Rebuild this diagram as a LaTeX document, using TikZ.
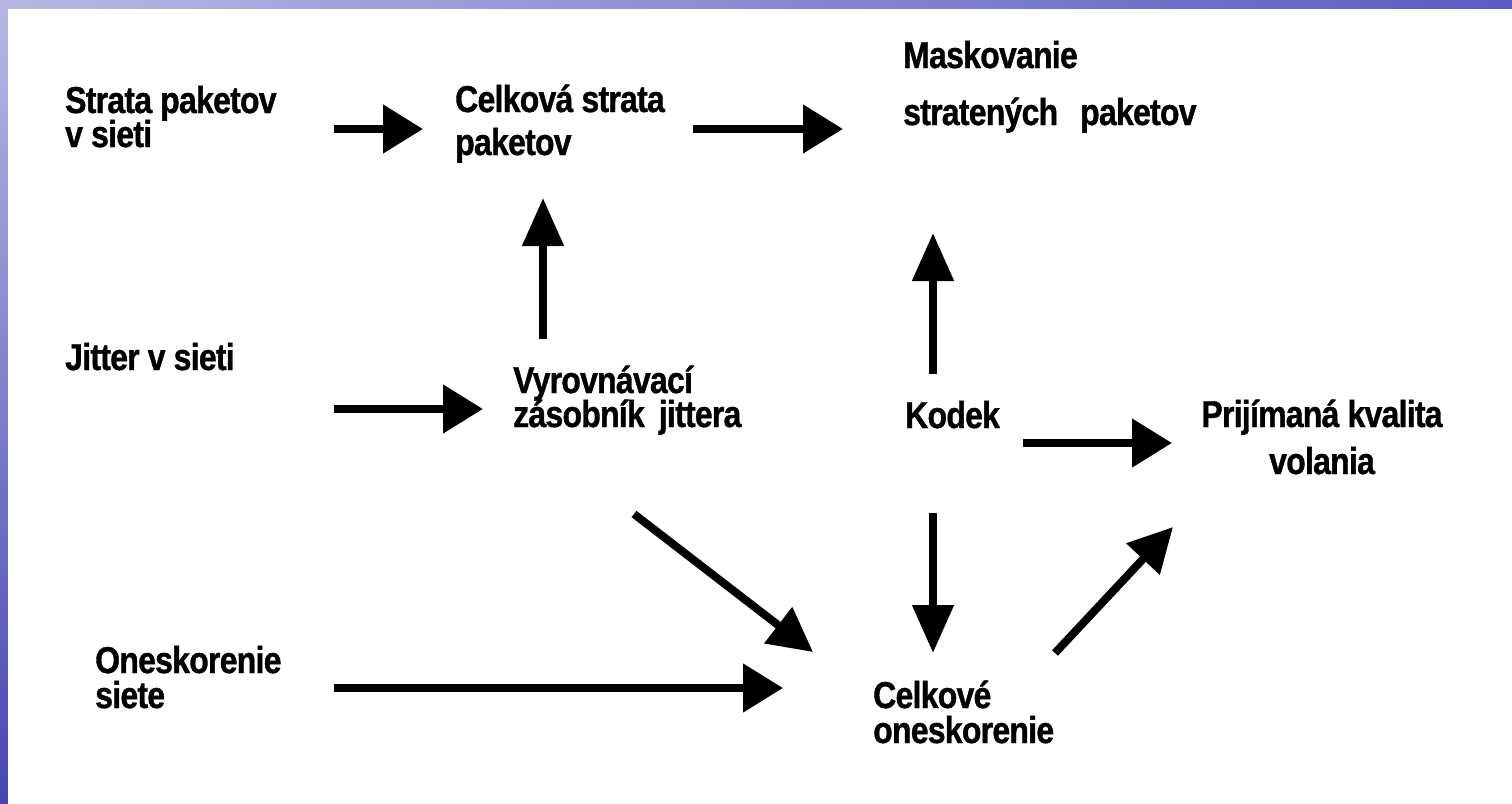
\documentclass[tikz,border=0pt]{standalone}
\usepackage{fontspec}
% narrow, tall, heavy sans for the labels
\setmainfont{Liberation Sans}[FakeStretch=0.855, LetterSpace=-2, FakeBold=1]
\usetikzlibrary{arrows.meta}
\definecolor{bandlight}{RGB}{184,184,228}
\definecolor{banddark}{RGB}{92,92,192}
\definecolor{bandlow}{RGB}{70,70,178}
% keep the baseline spacing fixed even where lines nearly touch
\setlength{\lineskiplimit}{-100pt}
\tikzset{
  lbl/.style={inner sep=0pt, anchor=base west, align=left,
    font=\fontsize{37.4}{31}\selectfont\bfseries},
  lblc/.style={lbl, anchor=base, align=center},
  harrow/.style={line width=8pt, -{Triangle[length=40pt,width=47pt]}},
  varrow/.style={line width=8pt, -{Triangle[length=48pt,width=40pt]}},
  darrow/.style={line width=8pt, -{Triangle[length=44pt,width=44pt]}},
}
\begin{document}
\begin{tikzpicture}[x=1pt,y=-1pt]
\useasboundingbox (0,0) rectangle (1512,803);
% slide frame: gradient bands on top and left
\shade[left color=bandlight, right color=banddark] (0,0) rectangle (1512,9);
\shade[top color=bandlight, bottom color=bandlow] (0,0) rectangle (8,803);
\fill[white] (8,9) rectangle (1512,803);

% labels (positioned by the baseline of their last line)
\node[lbl] (sp) at (65,147) {Strata paketov\\[3pt]v sieti};
\node[lbl] (cs) at (455,155) {Celková strata\\[12pt]paketov};
\node[lbl] (ms) at (903,125) {Maskovanie\\[26pt]stratených\hspace{22pt}paketov};
\node[lbl] (js) at (65,370) {Jitter v sieti};
\node[lbl] (vz) at (513,427) {Vyrovnávací\\[3pt]zásobník\hspace{14pt}jittera};
\node[lbl] (kd) at (905,428) {Kodek};
\node[lblc] (pk) at (1322,474) {Prijímaná kvalita\\[16pt]volania};
\node[lbl] (os) at (95,708) {Oneskorenie\\[4pt]siete};
\node[lbl] (co) at (873,743) {Celkové\\[4pt]oneskorenie};

% arrow end points
\coordinate (a1s) at (334,129);  \coordinate (a1e) at (423,129);
\coordinate (a2s) at (693,129);  \coordinate (a2e) at (843,129);
\coordinate (a3s) at (543,339);  \coordinate (a3e) at (543,198);
\coordinate (a4s) at (334,409);  \coordinate (a4e) at (483,409);
\coordinate (a5s) at (933,374);  \coordinate (a5e) at (933,233);
\coordinate (a6s) at (1023,443); \coordinate (a6e) at (1172,443);
\coordinate (a7s) at (933,513);  \coordinate (a7e) at (933,653);
\coordinate (a8s) at (634,514);  \coordinate (a8e) at (813,652);
\coordinate (a9s) at (334,688);  \coordinate (a9e) at (783,688);
\coordinate (a10s) at (1055,653); \coordinate (a10e) at (1173,527);

\draw[harrow] (a1s) -- (a1e);
\draw[harrow] (a2s) -- (a2e);
\draw[varrow] (a3s) -- (a3e);
\draw[harrow] (a4s) -- (a4e);
\draw[varrow] (a5s) -- (a5e);
\draw[harrow] (a6s) -- (a6e);
\draw[varrow] (a7s) -- (a7e);
\draw[darrow] (a8s) -- (a8e);
\draw[harrow] (a9s) -- (a9e);
\draw[darrow] (a10s) -- (a10e);
\end{tikzpicture}
\end{document}
